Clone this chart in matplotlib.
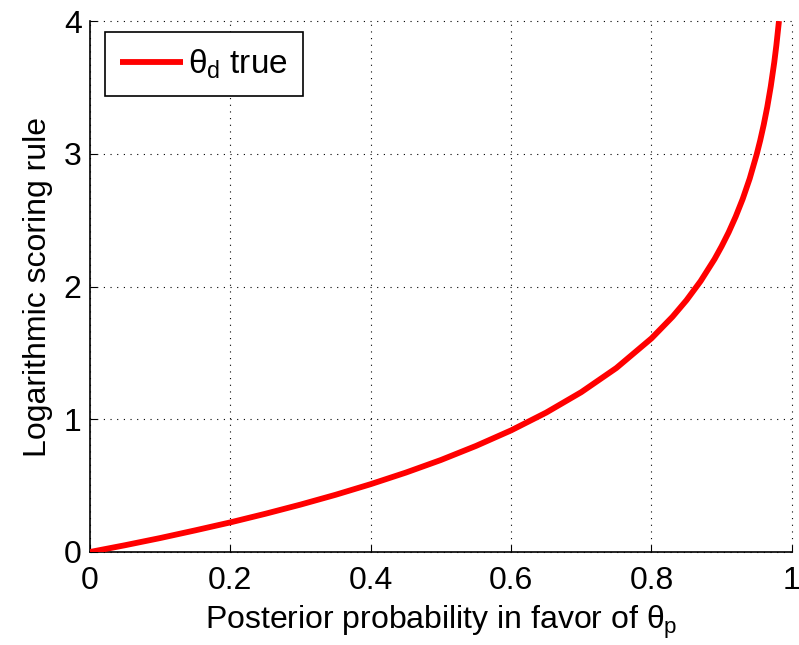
import matplotlib
matplotlib.use("Agg")
import matplotlib.pyplot as plt

plt.rcParams['font.family'] = ['Liberation Sans', 'DejaVu Sans']
plt.rcParams['mathtext.fontset'] = 'custom'
plt.rcParams['mathtext.rm'] = 'Liberation Sans'
plt.rcParams['mathtext.it'] = 'Liberation Sans'
plt.rcParams['mathtext.bf'] = 'Liberation Sans:bold'

# Posterior probability and the corresponding logarithmic score
posterior = [0.0, 0.05, 0.1, 0.15, 0.2, 0.25, 0.3, 0.35, 0.4, 0.45, 0.5, 0.55,
             0.6, 0.65, 0.7, 0.75, 0.8, 0.83, 0.85, 0.87, 0.89, 0.9, 0.91,
             0.92, 0.93, 0.94, 0.95, 0.955, 0.96, 0.965, 0.97, 0.975, 0.978,
             0.9817]
score = [0.0, 0.051, 0.105, 0.163, 0.223, 0.288, 0.357, 0.431, 0.511, 0.598,
         0.693, 0.799, 0.916, 1.050, 1.204, 1.386, 1.609, 1.772, 1.897, 2.040,
         2.207, 2.303, 2.408, 2.526, 2.659, 2.813, 2.996, 3.101, 3.219, 3.352,
         3.507, 3.689, 3.817, 4.0]

x_ticks = [0, 0.2, 0.4, 0.6, 0.8, 1]
x_tick_labels = ['0', '0.2', '0.4', '0.6', '0.8', '1']
y_ticks = [0, 1, 2, 3, 4]
y_tick_labels = ['0', '1', '2', '3', '4']

fig = plt.figure(figsize=(7.99, 6.45), dpi=100)
ax = fig.add_axes([0.1126, 0.1442, 0.8784, 0.8232])

ax.plot(posterior, score, color='#ff0000', linewidth=4.2,
        solid_capstyle='butt', label=r'$\theta_{\mathrm{d}}$ true', zorder=3)

ax.set_xlim(0, 1)
ax.set_ylim(0, 4)
ax.set_xticks(x_ticks)
ax.set_xticklabels(x_tick_labels)
ax.set_yticks(y_ticks)
ax.set_yticklabels(y_tick_labels)

ax.grid(True, color='black', linestyle=(0, (1, 5)), linewidth=0.8)
for gl in ax.get_xgridlines() + ax.get_ygridlines():
    gl.set_clip_on(False)

for side in ('top', 'right'):
    ax.spines[side].set_visible(False)
for side in ('left', 'bottom'):
    ax.spines[side].set_linewidth(1.2)

ax.tick_params(axis='both', direction='in', length=5, width=0.8, labelsize=23,
               top=False, right=False)
ax.tick_params(axis='x', pad=10)
ax.tick_params(axis='y', pad=6)

ax.set_xlabel(r'Posterior probability in favor of $\theta_{\mathrm{p}}$',
              fontsize=23, labelpad=6)
ax.set_ylabel('Logarithmic scoring rule', fontsize=23, labelpad=8)

leg = ax.legend(loc='upper left', fontsize=24, frameon=True, fancybox=False,
                edgecolor='black', handlelength=1.9, borderpad=0.45,
                handletextpad=0.15, borderaxespad=0,
                bbox_to_anchor=(0.0214, 0.979))
leg.get_frame().set_linewidth(1.2)
leg.get_frame().set_facecolor('white')
leg.get_frame().set_alpha(1)

fig.savefig('out.png', dpi=100)
